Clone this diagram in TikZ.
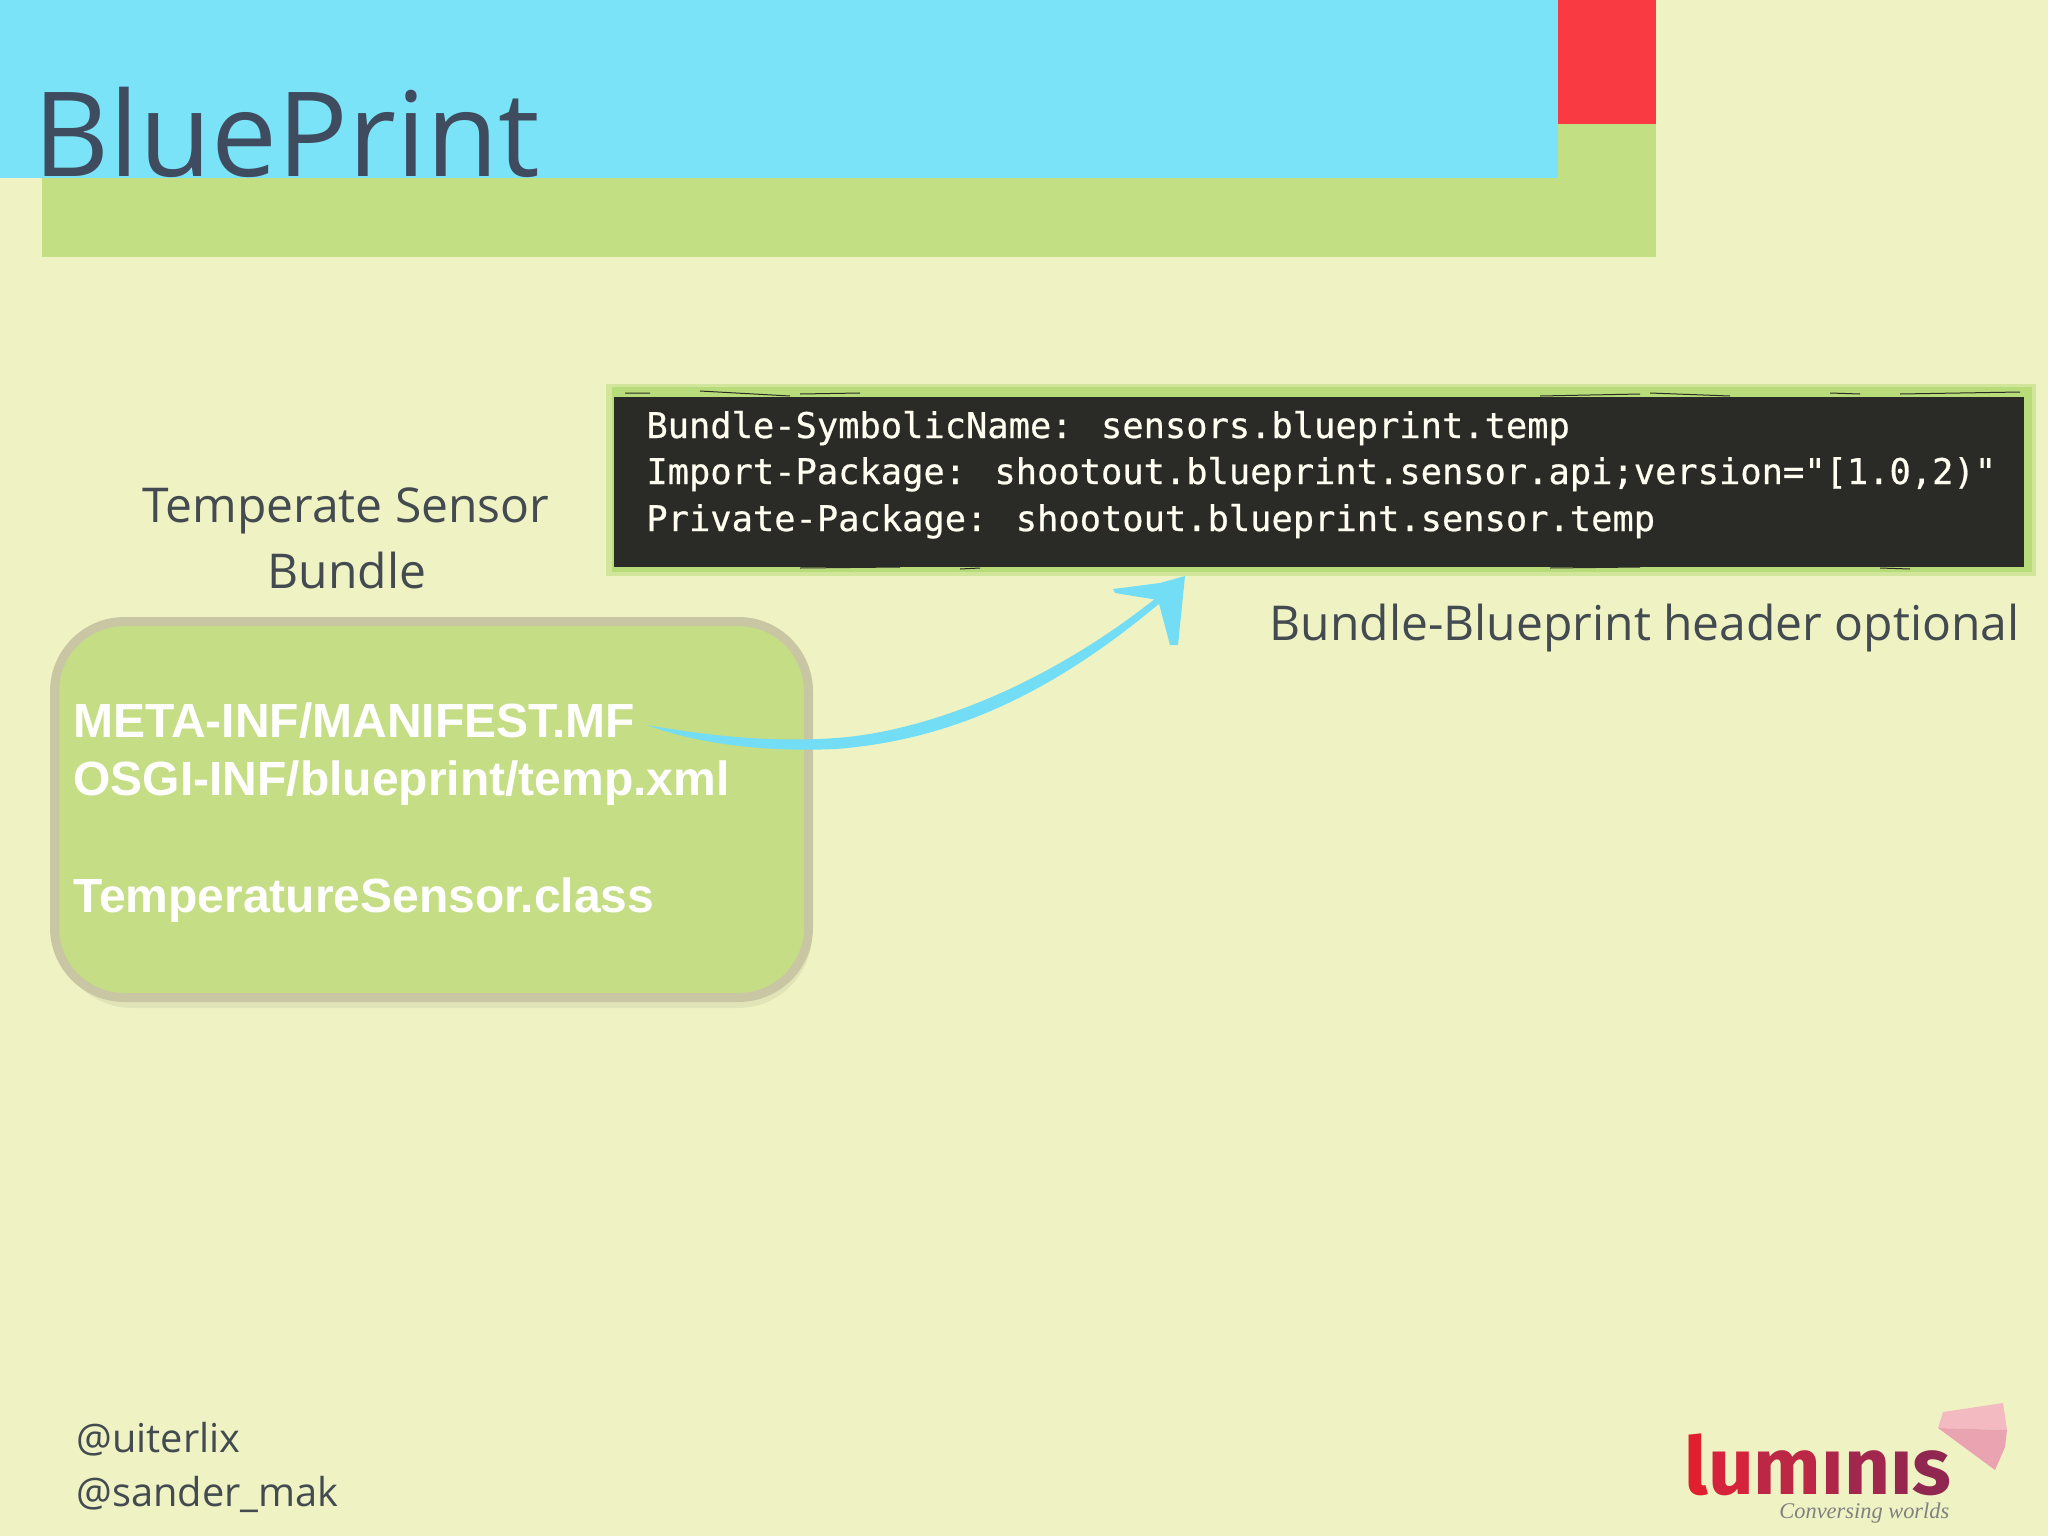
\documentclass[tikz,border=0pt]{standalone}
\usepackage{fontspec}
\setmainfont{Open Sans}
\newfontfamily\arialb{Liberation Sans}[BoldFont={* Bold}]
\newfontfamily\menlo{DejaVu Sans Mono}[FakeBold=0.6]
\newfontfamily\logof{Fira Sans}[UprightFont={* Bold}]
\newfontfamily\tagf{Liberation Serif}[ItalicFont={* Italic}]
\definecolor{bgc}{HTML}{EFF3C3}
\definecolor{skyc}{HTML}{7AE3F7}
\definecolor{redc}{HTML}{F93A42}
\definecolor{leafc}{HTML}{C2DF83}
\definecolor{inkc}{HTML}{3F4C5F}
\definecolor{labelc}{HTML}{434A50}
\definecolor{fillc}{HTML}{C5DD85}
\definecolor{rimc}{HTML}{C9C6A4}
\definecolor{darkc}{HTML}{2A2A26}
\definecolor{framec}{HTML}{B9DC7A}
\definecolor{arrowc}{HTML}{72DDF5}
\definecolor{pinka}{HTML}{F3BAC2}
\definecolor{pinkb}{HTML}{EAA3B1}
\definecolor{la}{HTML}{E0202F}
\definecolor{lb}{HTML}{D4233A}
\definecolor{lc}{HTML}{BC2745}
\definecolor{ld}{HTML}{AE274B}
\definecolor{le}{HTML}{A2274E}
\definecolor{lf}{HTML}{982750}
\definecolor{lg}{HTML}{8F2750}
\tikzset{
  band/.style={fill=#1,draw=none},
  label/.style={anchor=base,inner sep=0pt,text=labelc,font=\fontsize{24}{24}\selectfont},
  filetext/.style={anchor=base west,inner sep=0pt,text=white,font=\arialb\bfseries\fontsize{24}{24}\selectfont},
  codetext/.style={anchor=base west,inner sep=0pt,text=white!94!yellow,font=\menlo\fontsize{17.7}{18}\selectfont},
  streak/.style={draw=darkc,line width=0.5pt},
}
\begin{document}
\begin{tikzpicture}[x=0.5pt,y=-0.5pt]
\useasboundingbox (0,0) rectangle (2048,1536);
\fill[bgc] (0,0) rectangle (2048,1536);
% header
\fill[band=leafc] (42,124) rectangle (1656,257);
\fill[band=redc] (1558,0) rectangle (1656,124);
\fill[band=skyc] (0,0) rectangle (1558,178);
\node[anchor=base west,inner sep=0pt,text=inkc,font=\fontsize{58.8}{58}\selectfont] (title) at (33,176) {BluePrint};
% code box
\fill[framec!55!bgc] (606,384) rectangle (2036,576);
\fill[framec] (612,387) rectangle (2032,572);
\node[draw=none,fill=darkc,inner sep=0pt,minimum width=705pt,minimum height=85pt,anchor=north west] (code) at (614,397) {};
\draw[streak] (625,393) -- (650,393) (700,391) -- (790,396) (800,394) -- (860,393)
  (1540,396) -- (1640,394) (1650,393) -- (1730,396) (1830,393) -- (1860,394) (1900,394) -- (2020,392);
\draw[streak] (800,568) -- (900,567) (960,569) -- (980,568) (1550,568) -- (1640,567) (1880,568) -- (1910,569);
\node[codetext] (c1) at (646,438) {Bundle-SymbolicName: sensors.blueprint.temp};
\node[codetext] (c2) at (646,484) {Import-Package: shootout.blueprint.sensor.api;version="[1.0,2)"};
\node[codetext] (c3) at (646,531) {Private-Package: shootout.blueprint.sensor.temp};
% labels
\node[label] (t1) at (346,522) {Temperate Sensor};
\node[label] (t2) at (347,588) {Bundle};
\node[label,anchor=base east] (hdr) at (2020,640) {Bundle-Blueprint header optional};
% bundle
\fill[black,opacity=.06,rounded corners=37pt] (58,630) rectangle (812,1008);
\node[draw=rimc,line width=4.5pt,fill=fillc,rounded corners=35pt,inner sep=0pt,outer sep=0pt,minimum width=377pt,minimum height=188pt,anchor=north west] (bundle) at (54.5,621.5) {};
\node[filetext] (f1) at (73,737) {META-INF/MANIFEST.MF};
\node[filetext] (f2) at (73,795) {OSGI-INF/blueprint/temp.xml};
\node[filetext] (f3) at (73,912) {TemperatureSensor.class};
% arrow
\coordinate (arrowstart) at (647,725);
\coordinate (arrowtip) at (1185,576);
\fill[arrowc] (arrowstart) .. controls (720,738) and (780,742) .. (836,738)
  .. controls (920,732) and (1040,690) .. (1156,598)
  -- (1160,603) .. controls (1050,695) and (950,740) .. (836,749)
  .. controls (770,752) and (700,745) .. (arrowstart) -- cycle;
\fill[arrowc] (arrowtip) -- (1160,583) -- (1113,589) -- (1115,593) -- (1158,600) -- (1170,645) -- (1178,645) -- cycle;
% footer
\node[label,anchor=base west,font=\fontsize{19.9}{20}\selectfont] (u1) at (76,1452) {@uiterlix};
\node[label,anchor=base west,font=\fontsize{19.9}{20}\selectfont] (u2) at (76,1506) {@sander\_mak};
% logo
\fill[pinka] (1938,1428) -- (1943,1412) -- (2003,1403) -- (2007,1430) -- cycle;
\fill[pinkb] (1938,1428) -- (2007,1430) -- (2005,1447) -- (1995,1470) -- cycle;
\node[anchor=base west,inner sep=0pt,font=\logof\fontsize{40}{40}\selectfont] (logo) at (1684,1494)
  {\textcolor{la}{l}\textcolor{lb}{u}\textcolor{lc}{m}\textcolor{ld}{ı}\textcolor{le}{n}\textcolor{lf}{ı}\textcolor{lg}{s}};
\node[anchor=base west,inner sep=0pt,text=black!50,font=\tagf\itshape\fontsize{11.2}{12}\selectfont] (tag) at (1779,1518) {Conversing worlds};
\end{tikzpicture}
\end{document}
